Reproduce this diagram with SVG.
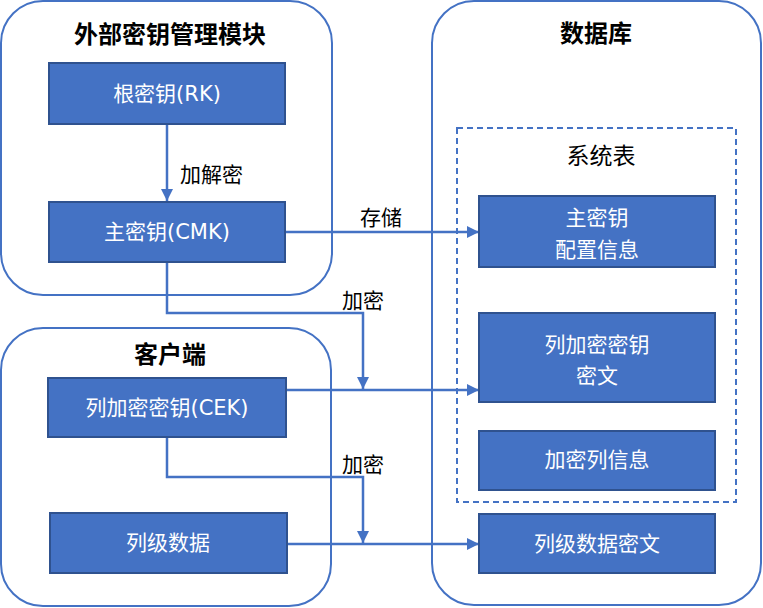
<svg xmlns="http://www.w3.org/2000/svg" width="763" height="608" viewBox="0 0 763 608">
<style>
.cont{fill:#fff;stroke:#4472C4;stroke-width:2}
.box{fill:#4472C4;stroke:#2F528F;stroke-width:2}
.bt{fill:#fff;font-family:"DejaVu Sans","Noto Sans CJK SC",sans-serif;font-size:21px;text-anchor:middle;dominant-baseline:central}
.tt{fill:#000;font-family:"Noto Sans CJK SC",sans-serif;font-size:24px;font-weight:bold;text-anchor:middle;dominant-baseline:central}
.lt{fill:#000;font-family:"Noto Sans CJK SC",sans-serif;font-size:21px;dominant-baseline:central}
.ln{fill:none;stroke:#4472C4;stroke-width:2.5}
</style>
<defs>
<marker id="ah" markerUnits="userSpaceOnUse" markerWidth="12" markerHeight="12" refX="12" refY="6" orient="auto">
<path d="M0,0 L12,6 L0,12 z" fill="#4472C4"/>
</marker>
</defs>
<g id="kms">
<rect class="cont" x="1" y="1" width="331" height="294" rx="42"/>
<text class="tt" x="170" y="32">外部密钥管理模块</text>
</g>
<g id="client">
<rect class="cont" x="1" y="328" width="330" height="278" rx="42"/>
<text class="tt" x="170" y="352">客户端</text>
</g>
<g id="db">
<rect class="cont" x="432" y="1" width="329" height="604" rx="42"/>
<text class="tt" x="596" y="31">数据库</text>
</g>
<g id="systable">
<rect x="457" y="128" width="279" height="374" fill="none" stroke="#4472C4" stroke-width="2" stroke-dasharray="6,4"/>
<text class="lt" x="601" y="154" text-anchor="middle" style="font-size:23px">系统表</text>
</g>
<g id="connectors">
<line class="ln" x1="167" y1="124" x2="167" y2="201" marker-end="url(#ah)"/>
<line class="ln" x1="285" y1="232" x2="479" y2="232" marker-end="url(#ah)"/>
<polyline class="ln" points="167,262 167,313 363,313 363,389" marker-end="url(#ah)"/>
<line class="ln" x1="286" y1="390" x2="479" y2="390" marker-end="url(#ah)"/>
<polyline class="ln" points="167,437 167,477 363,477 363,543" marker-end="url(#ah)"/>
<line class="ln" x1="287" y1="544" x2="479" y2="544" marker-end="url(#ah)"/>
<text class="lt" x="180" y="173">加解密</text>
<text class="lt" x="360" y="216">存储</text>
<text class="lt" x="342" y="299">加密</text>
<text class="lt" x="342" y="463">加密</text>
</g>
<g id="rk">
<rect class="box" x="49" y="63" width="236" height="61"/>
<text class="bt" x="167" y="94">根密钥(RK)</text>
</g>
<g id="cmk">
<rect class="box" x="49" y="202" width="236" height="60"/>
<text class="bt" x="167" y="232">主密钥(CMK)</text>
</g>
<g id="cek">
<rect class="box" x="48" y="378" width="238" height="59"/>
<text class="bt" x="167" y="408">列加密密钥(CEK)</text>
</g>
<g id="coldata">
<rect class="box" x="50" y="513" width="237" height="60"/>
<text class="bt" x="168" y="543">列级数据</text>
</g>
<g id="cmkinfo">
<rect class="box" x="479" y="196" width="236" height="71"/>
<text class="bt" x="597" y="218">主密钥</text>
<text class="bt" x="597" y="250">配置信息</text>
</g>
<g id="cekcipher">
<rect class="box" x="479" y="313" width="236" height="89"/>
<text class="bt" x="597" y="345">列加密密钥</text>
<text class="bt" x="597" y="376">密文</text>
</g>
<g id="colinfo">
<rect class="box" x="479" y="431" width="236" height="59"/>
<text class="bt" x="597" y="460">加密列信息</text>
</g>
<g id="colcipher">
<rect class="box" x="479" y="514" width="236" height="59"/>
<text class="bt" x="597" y="544">列级数据密文</text>
</g>
</svg>
